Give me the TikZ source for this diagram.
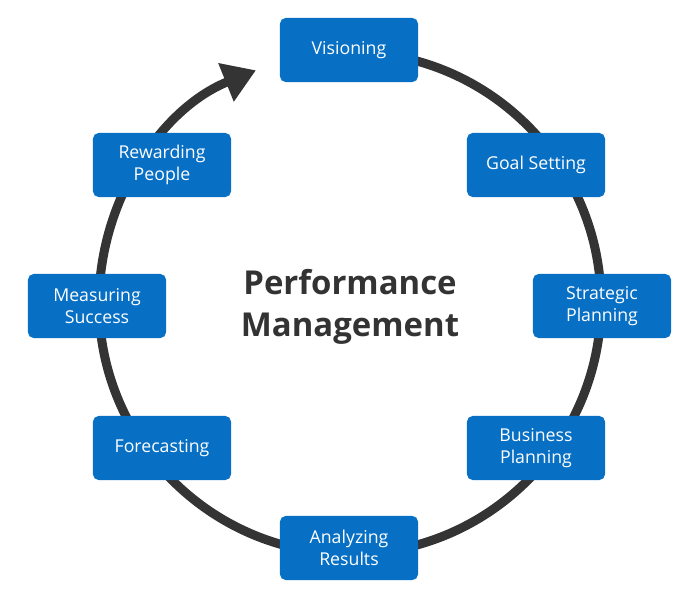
\documentclass[tikz,border=0pt]{standalone}
\usepackage{fontspec}
\setmainfont{Open Sans}
\usetikzlibrary{arrows.meta}
\definecolor{boxblue}{RGB}{7,111,196}
\definecolor{ringgray}{RGB}{52,52,52}
\definecolor{titlegray}{RGB}{51,51,51}
\tikzset{
  stage/.style={fill=boxblue, rounded corners=4pt, text=white, align=center,
    minimum width=3.45cm, minimum height=1.6cm, inner sep=0pt,
    font=\fontsize{12.6}{15.4}\selectfont},
  ring/.style={line width=6.4pt, draw=ringgray}
}
\begin{document}
\begin{tikzpicture}[x=0.025cm, y=-0.025cm]
\useasboundingbox (0,0) rectangle (700,607);
% cycle ring, clockwise from the top
\draw[ring, -{Triangle[length=23pt, width=28pt]}] (350,303) ++(270:251) arc[start angle=270, end angle=608, radius=251];
% stages
\node[stage] (vision) at (349,50) {Visioning};
\node[stage] (goal) at (536,165) {Goal Setting};
\node[stage] (strategic) at (602,306) {Strategic\\Planning};
\node[stage] (business) at (536,448) {Business\\Planning};
\node[stage] (analyzing) at (349,548) {Analyzing\\Results};
\node[stage] (forecasting) at (162,448) {Forecasting};
\node[stage] (measuring) at (97,306) {Measuring\\Success};
\node[stage] (rewarding) at (162,165) {Rewarding\\People};
% centre title
\node[text=titlegray, align=center, font=\fontsize{23.4}{30}\selectfont\bfseries] (title) at (350,307) {Performance\\Management};
\end{tikzpicture}
\end{document}
